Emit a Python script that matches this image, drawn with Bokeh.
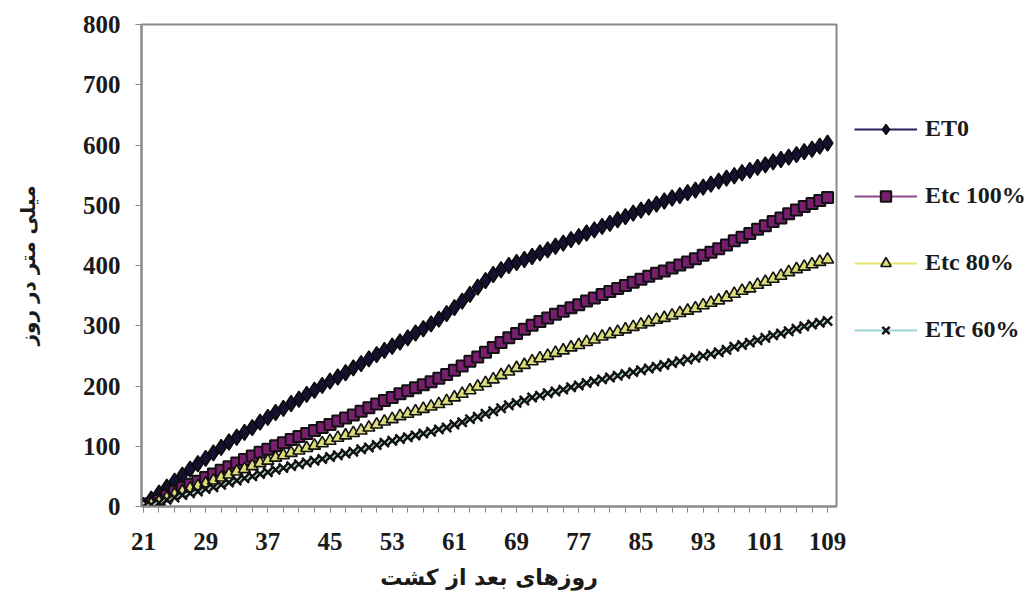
from bokeh.plotting import figure
from bokeh.models import Range1d, Legend, LegendItem, FixedTicker
from bokeh.embed import file_html
from bokeh.resources import INLINE

days = list(range(21, 110))
tick_days = [21, 29, 37, 45, 53, 61, 69, 77, 85, 93, 101, 109]
y_ticks = [0, 100, 200, 300, 400, 500, 600, 700, 800]

et0 = [2, 12, 22, 32, 42, 52, 62, 71, 80, 89, 98, 107, 115, 123, 131, 140, 148, 156, 163, 171,
       178, 186, 193, 201, 208, 215, 222, 230, 237, 245, 252, 259, 266, 273, 280, 288, 295, 303,
       311, 320, 330, 341, 352, 364, 375, 385, 393, 400, 405, 410, 415, 421, 426, 432, 437, 443,
       448, 454, 459, 465, 470, 476, 481, 487, 492, 497, 502, 507, 512, 516, 521, 525, 530, 535,
       540, 545, 549, 554, 558, 563, 567, 572, 576, 580, 584, 589, 593, 598, 603]

etc100 = [0, 5, 10, 18, 25, 31, 37, 42, 48, 54, 60, 66, 72, 78, 84, 90, 95, 101, 106, 111,
          116, 121, 126, 131, 136, 142, 147, 152, 158, 164, 170, 176, 181, 187, 192, 197, 202, 207,
          213, 219, 226, 233, 241, 248, 256, 264, 272, 280, 287, 294, 301, 307, 313, 319, 324, 330,
          335, 341, 346, 352, 357, 362, 367, 372, 377, 382, 387, 391, 396, 401, 406, 411, 417, 422,
          428, 434, 441, 447, 453, 460, 466, 473, 479, 486, 492, 498, 503, 508, 513]

etc80 = [0, 4, 8, 14, 20, 25, 30, 34, 38, 43, 48, 53, 58, 62, 67, 72, 76, 81, 85, 89,
         93, 97, 101, 105, 109, 114, 118, 122, 126, 131, 136, 141, 145, 150, 154, 158, 162, 166,
         170, 175, 181, 187, 193, 199, 205, 211, 218, 224, 230, 235, 241, 246, 250, 255, 259, 264,
         268, 273, 277, 282, 286, 290, 294, 298, 302, 306, 310, 313, 317, 321, 325, 329, 334, 338,
         342, 347, 353, 358, 362, 368, 373, 378, 383, 389, 394, 398, 402, 406, 410]

etc60 = [0, 3, 6, 11, 15, 19, 22, 25, 29, 32, 36, 40, 43, 47, 50, 54, 57, 61, 64, 67,
         70, 73, 76, 79, 82, 85, 88, 91, 95, 98, 102, 106, 109, 112, 115, 118, 121, 124,
         128, 131, 136, 140, 145, 149, 154, 158, 163, 168, 172, 176, 181, 184, 188, 191, 194, 198,
         201, 205, 208, 211, 214, 217, 220, 223, 226, 229, 232, 235, 238, 241, 244, 247, 250, 253,
         256, 260, 265, 268, 272, 276, 280, 284, 287, 291, 295, 299, 302, 305, 308]

series_names = ["ET0", "Etc 100%", "Etc 80%", "ETc 60%"]
x_label = "روزهای بعد از کشت"
y_label = "میلی متر در روز"

p = figure(frame_width=695, frame_height=482, min_border_left=141, min_border_right=180,
           min_border_top=24, min_border_bottom=90,
           x_range=Range1d(20.75, 110.15), y_range=Range1d(0, 800),
           output_backend="svg", toolbar_location=None)
p.background_fill_color = "white"
p.border_fill_color = "white"
p.outline_line_color = "#8a8a8a"
p.outline_line_width = 2
p.xgrid.visible = False
p.ygrid.visible = False

p.xaxis.ticker = FixedTicker(ticks=tick_days, minor_ticks=list(range(21, 110, 2)))
p.yaxis.ticker = FixedTicker(ticks=y_ticks, minor_ticks=[])

for ax in (p.xaxis[0], p.yaxis[0]):
    ax.axis_line_color = "#8a8a8a"
    ax.axis_line_width = 2
    ax.major_tick_line_color = "#8a8a8a"
    ax.minor_tick_line_color = "#8a8a8a"
    ax.major_tick_in = 0
    ax.minor_tick_in = 0
    ax.major_tick_out = 6
    ax.minor_tick_out = 6
    ax.major_label_text_font = "Liberation Serif"
    ax.major_label_text_font_style = "bold"
    ax.major_label_text_font_size = "25px"
    ax.major_label_text_color = "#1a1a1a"
    ax.axis_label_text_font = "DejaVu Sans"
    ax.axis_label_text_font_style = "bold"
    ax.axis_label_text_color = "#1a1a1a"

p.xaxis.axis_label_text_font_size = "22px"
p.yaxis.axis_label_text_font_size = "20px"
p.xaxis.major_label_standoff = 20
p.yaxis.major_label_standoff = 15
p.yaxis.minor_tick_out = 0
p.xaxis.axis_label = x_label
p.yaxis.axis_label = y_label
p.xaxis.axis_label_standoff = 12
p.yaxis.axis_label_standoff = 40

line_colors = ["#2b1f5c", "#8a4a8a", "#e6e66a", "#9fd3dc"]

l0 = p.line(days, et0, line_color=line_colors[0], line_width=2)
m0 = p.scatter(days, et0, marker="diamond", size=16, fill_color="#161030",
               line_color="#0a0a0a", line_width=1.5)
l1 = p.line(days, etc100, line_color=line_colors[1], line_width=2)
m1 = p.scatter(days, etc100, marker="square", size=11, fill_color="#7a1f70",
               line_color="#111111", line_width=2)
l2 = p.line(days, etc80, line_color=line_colors[2], line_width=2)
m2 = p.scatter(days, etc80, marker="triangle", size=12, fill_color="#dcdc78",
               line_color="#111111", line_width=1.6)
l3 = p.line(days, etc60, line_color=line_colors[3], line_width=2)
m3 = p.scatter(days, etc60, marker="x", size=13, line_color="#111111", line_width=2.5)

items = [LegendItem(label=series_names[0], renderers=[l0, m0]),
         LegendItem(label=series_names[1], renderers=[l1, m1]),
         LegendItem(label=series_names[2], renderers=[l2, m2]),
         LegendItem(label=series_names[3], renderers=[l3, m3])]
legend = Legend(items=items, location=(18, 163), orientation="vertical")
legend.glyph_width = 63
legend.glyph_height = 26
legend.label_height = 26
legend.spacing = 40
legend.padding = 0
legend.margin = 0
legend.label_standoff = 8
legend.border_line_color = None
legend.background_fill_alpha = 0
legend.label_text_font = "Liberation Serif"
legend.label_text_font_style = "bold"
legend.label_text_font_size = "24px"
legend.label_text_color = "#1a1a1a"
p.add_layout(legend, "right")

open("out.html", "w").write(file_html(p, INLINE))
